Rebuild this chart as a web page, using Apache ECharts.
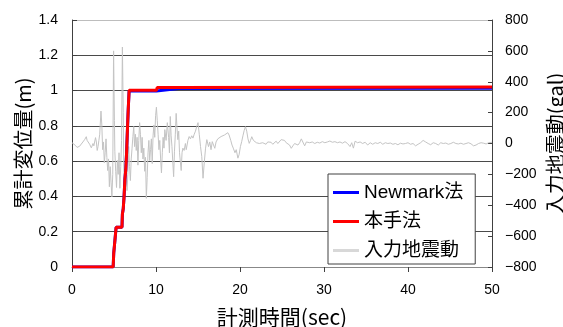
<!DOCTYPE html>
<html><head><meta charset="utf-8">
<script src="https://cdn.jsdelivr.net/npm/echarts@6/dist/echarts.min.js"></script>
<style>html,body{margin:0;padding:0;background:#fff;overflow:hidden}#c{width:563px;height:327px}</style>
</head><body><div id="c"></div>
<script>
var xTicks = [0, 10, 20, 30, 40, 50];
var leftTicks = [0, 0.2, 0.4, 0.6, 0.8, 1, 1.2, 1.4];
var rightTicks = [-800, -600, -400, -200, 0, 200, 400, 600, 800];
var seriesNames = ['Newmark法', '本手法', '入力地震動'];

var dispTime = [0, 4.9, 4.97, 5.05, 5.25, 5.95, 6.0, 6.1, 6.2, 6.3, 6.4, 6.5, 6.6, 6.7, 6.8, 10.05, 10.15, 12.7, 50];
var newmarkDisp = [0, 0, 0.08, 0.12, 0.225, 0.225, 0.3, 0.33, 0.4, 0.5, 0.55, 0.65, 0.78, 0.9, 0.998, 0.998, 1.006, 1.012, 1.013];
var honteDisp = [0, 0, 0.08, 0.12, 0.225, 0.225, 0.3, 0.33, 0.4, 0.5, 0.55, 0.65, 0.78, 0.9, 1.002, 1.002, 1.018, 1.018, 1.02];

var gmTime = [0,0.2,0.4,0.6,0.75,0.9,1.1,1.3,1.5,1.7,1.8,2.0,2.1,2.3,2.5,2.6,2.8,2.9,3.0,3.1,3.2,3.3,3.45,3.55,3.65,3.75,3.85,3.95,4.05,4.15,4.25,4.35,4.45,4.55,4.65,4.75,4.85,4.95,5.05,5.1,5.2,5.3,5.4,5.5,5.6,5.7,5.8,5.9,6.0,6.1,6.15,6.25,6.35,6.45,6.55,6.65,6.75,6.85,6.95,7.05,7.15,7.25,7.35,7.45,7.55,7.65,7.75,7.85,7.95,8.05,8.15,8.25,8.35,8.45,8.55,8.65,8.75,8.85,8.95,9.05,9.15,9.25,9.35,9.45,9.55,9.65,9.75,9.85,9.95,10.05,10.15,10.25,10.35,10.45,10.55,10.65,10.75,10.85,10.95,11.05,11.2,11.35,11.5,11.6,11.7,11.8,11.9,12.0,12.1,12.2,12.3,12.4,12.5,12.6,12.7,12.8,12.9,13.0,13.1,13.2,13.35,13.5,13.6,13.8,13.95,14.1,14.25,14.4,14.55,14.7,14.85,15.0,15.15,15.3,15.45,15.6,15.75,15.9,16.05,16.25,16.4,16.55,16.7,16.85,17.0,17.15,17.35,17.55,17.75,17.95,18.15,18.35,18.55,18.7,18.9,19.05,19.2,19.4,19.55,19.75,19.9,20.05,20.2,20.35,20.5,20.65,20.8,20.95,21.1,21.25,21.4,21.6,21.75,21.95,22.1,22.3,22.5,22.7,22.9,23.1,23.3,23.5,23.7,23.9,24.1,24.3,24.5,24.7,24.9,25.1,25.3,25.5,25.7,25.9,26.1,26.3,26.5,26.7,26.9,27.1,27.3,27.5,27.7,27.9,28.1,28.3,28.6,28.9,29.2,29.5,29.8,30.1,30.4,30.7,31.0,31.3,31.6,31.9,32.2,32.5,32.8,33.1,33.3,33.5,33.7,34.0,34.3,34.6,34.9,35.2,35.5,35.8,36.1,36.4,36.7,37.0,37.3,37.6,37.9,38.2,38.5,38.8,39.1,39.4,39.7,40.0,40.3,40.6,40.9,41.2,41.5,41.8,42.1,42.4,42.7,43.0,43.3,43.6,43.9,44.2,44.5,44.8,45.1,45.4,45.7,46.0,46.3,46.6,46.9,47.2,47.5,47.8,48.1,48.4,48.7,49.0,49.3,49.6,50.0];
var gmAcc = [5,-5,-12,-25,-32,-18,-20,10,25,44,20,30,-5,-28,0,-15,38,10,-45,-20,20,60,210,120,-40,10,-125,-60,30,-90,-175,-100,-280,-150,-250,-345,-200,600,150,-50,-180,-285,-110,-200,-60,-290,-150,20,625,200,-120,-285,-160,-230,-305,-200,-20,-150,-240,-100,-30,45,110,-20,60,-45,40,-140,20,135,60,-60,40,-100,-30,-180,-90,-355,-220,-60,20,-110,-40,30,-130,50,120,40,180,235,150,60,-40,20,-100,-190,-60,40,-30,90,20,135,40,-60,175,50,-20,-120,-215,-50,60,195,100,25,80,-60,-120,-175,-60,-30,-45,0,-40,20,45,30,50,35,60,80,110,135,60,-20,-85,-225,-120,-30,25,-20,10,-40,12,-10,-31,10,30,20,45,35,55,45,70,55,20,-10,-30,-60,-40,-95,-70,-20,12,50,85,109,80,30,1,20,44,20,25,5,15,0,10,5,15,-5,10,0,8,-5,5,15,0,5,25,37,20,5,15,-10,-31,-15,0,10,-10,5,30,18,-15,10,0,5,10,0,8,3,12,5,10,16,8,12,5,10,2,12,0,-20,5,-30,15,5,10,0,8,-10,5,-5,5,0,8,-5,5,0,3,-5,0,-8,2,-3,0,5,-5,0,-15,-5,5,20,10,0,-8,5,0,-10,5,0,3,-5,0,8,0,-3,2,-5,0,5,-2,-15,-10,0,5,2,-3,5,8];

function zip(a, b) { return a.map(function (v, i) { return [v, b[i]]; }); }

var latin = "'Liberation Sans', Arial, 'Noto Sans CJK JP', sans-serif";
var cjk = "'Noto Sans CJK JP', 'Liberation Sans', sans-serif";

var chart = echarts.init(document.getElementById('c'), null, {renderer: 'canvas', width: 563, height: 327});
chart.setOption({
  animation: false,
  backgroundColor: '#ffffff',
  grid: {left: 72, right: 71, top: 20, bottom: 60, containLabel: false, outerBoundsMode: 'none'},
  legend: {
    orient: 'vertical',
    left: 328, top: 174,
    data: [
      {name: seriesNames[0], itemStyle: {color: '#0000ff'}},
      {name: seriesNames[1], itemStyle: {color: '#ff0000'}},
      {name: seriesNames[2], itemStyle: {color: '#d8d8d8'}}
    ],
    icon: 'rect', itemWidth: 26, itemHeight: 3, itemGap: 10,
    padding: [9, 12, 4, 5],
    borderColor: '#404040', borderWidth: 1, backgroundColor: '#ffffff',
    textStyle: {fontSize: 19, color: '#000', fontFamily: latin},
    selectedMode: false
  },
  xAxis: {
    type: 'value', min: xTicks[0], max: xTicks[xTicks.length - 1], interval: 10,
    name: '計測時間(sec)', nameLocation: 'middle', nameGap: 40, nameMoveOverlap: false,
    nameTextStyle: {fontSize: 21, color: '#000', fontFamily: cjk},
    axisLine: {show: true, lineStyle: {color: '#888', width: 1}},
    axisTick: {show: true, inside: false, length: 5, lineStyle: {color: '#404040'}},
    axisLabel: {fontSize: 14, color: '#000', margin: 16, fontFamily: latin},
    splitLine: {show: false}
  },
  yAxis: [
    {
      type: 'value', min: leftTicks[0], max: leftTicks[leftTicks.length - 1], interval: 0.2,
      name: '累計変位量(m)', nameLocation: 'middle', nameGap: 39, nameRotate: 90, nameMoveOverlap: false,
      nameTextStyle: {fontSize: 20, color: '#000', fontFamily: cjk},
      axisLine: {show: true, onZero: false, lineStyle: {color: '#404040', width: 1}},
      axisTick: {show: true, inside: true, length: 5, lineStyle: {color: '#404040'}},
      axisLabel: {fontSize: 14, color: '#000', margin: 14, fontFamily: latin,
        formatter: function (v) { return String(Math.round(v * 10) / 10); }},
      splitLine: {show: true, lineStyle: {color: ['#888', '#4a4a4a', '#4a4a4a', '#4a4a4a', '#4a4a4a', '#4a4a4a', '#4a4a4a', '#bdbdbd'], width: 1}}
    },
    {
      type: 'value', min: rightTicks[0], max: rightTicks[rightTicks.length - 1], interval: 200,
      position: 'right',
      name: '入力地震動(gal)', nameLocation: 'middle', nameGap: 53, nameRotate: 90, nameMoveOverlap: false,
      nameTextStyle: {fontSize: 20, color: '#000', fontFamily: cjk},
      axisLine: {show: true, onZero: false, lineStyle: {color: '#404040', width: 1}},
      axisTick: {show: true, inside: true, length: 4, lineStyle: {color: '#404040'}},
      axisLabel: {fontSize: 14, color: '#000', margin: 13, fontFamily: latin,
        formatter: function (v) { return v < 0 ? '\u2212' + Math.abs(v) : String(v); }},
      splitLine: {show: false}
    }
  ],
  series: [
    {name: seriesNames[2], type: 'line', yAxisIndex: 1, data: zip(gmTime, gmAcc),
      symbol: 'none', lineStyle: {color: '#c4c4c4', width: 1}, itemStyle: {color: '#d8d8d8'}, z: 1},
    {name: seriesNames[0], type: 'line', yAxisIndex: 0, data: zip(dispTime, newmarkDisp),
      symbol: 'none', lineStyle: {color: '#0000ff', width: 3}, itemStyle: {color: '#0000ff'}, z: 2},
    {name: seriesNames[1], type: 'line', yAxisIndex: 0, data: zip(dispTime, honteDisp),
      symbol: 'none', lineStyle: {color: '#ff0000', width: 3}, itemStyle: {color: '#ff0000'}, z: 3}
  ]
});
</script></body></html>
